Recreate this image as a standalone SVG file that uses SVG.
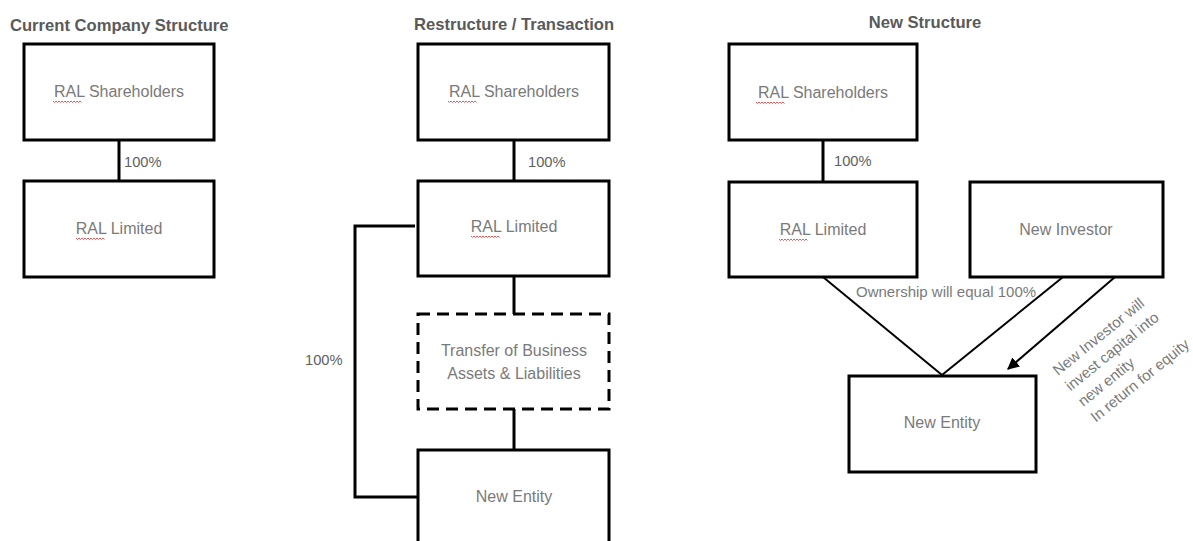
<svg xmlns="http://www.w3.org/2000/svg" width="1193" height="541" viewBox="0 0 1193 541">
<style>
.box{fill:#fff;stroke:#000;stroke-width:3}
.dash{fill:#fff;stroke:#000;stroke-width:3;stroke-dasharray:12,7}
.t{font-family:"Liberation Sans",Arial,sans-serif;font-size:16px;fill:#7a7a7a;text-anchor:middle}
.title{font-family:"Liberation Sans",Arial,sans-serif;font-size:16.6px;font-weight:bold;fill:#5a5a5a}
.lbl{font-family:"Liberation Sans",Arial,sans-serif;font-size:14.7px;fill:#5f5f5f}
.note{font-family:"Liberation Sans",Arial,sans-serif;font-size:15px;fill:#7a7a7a}
.ln{fill:none;stroke:#000;stroke-width:3}
.thin{fill:none;stroke:#000;stroke-width:2}
.sq{fill:none;stroke:#e03030;stroke-width:0.8}
</style>
<defs>
<marker id="ah" viewBox="0 0 10 10" refX="9" refY="5" markerWidth="6" markerHeight="6" orient="auto" markerUnits="strokeWidth">
<path d="M0,0 L10,5 L0,10 z" fill="#000"/>
</marker>
<path id="sqz" d="M0,0 l1.5,1.5 l1.5,-1.5 l1.5,1.5 l1.5,-1.5 l1.5,1.5 l1.5,-1.5 l1.5,1.5 l1.5,-1.5 l1.5,1.5 l1.5,-1.5 l1.5,1.5 l1.5,-1.5 l1.5,1.5 l1.5,-1.5 l1.5,1.5 l1.5,-1.5 l1.5,1.5 l1.5,-1.5 l1.5,1.5"/>
</defs>
<rect width="1193" height="541" fill="#fff"/>

<text class="title" x="10" y="31">Current Company Structure</text>
<text class="title" x="414" y="30">Restructure / Transaction</text>
<text class="title" x="925" y="28" text-anchor="middle">New Structure</text>

<g id="connectors">
<line class="ln" x1="119" y1="140" x2="119" y2="181"/>
<line class="ln" x1="514" y1="140" x2="514" y2="181"/>
<line class="ln" x1="514" y1="276" x2="514" y2="314"/>
<line class="ln" x1="514" y1="409" x2="514" y2="450"/>
<polyline class="ln" points="415,226 355,226 355,497 418,497"/>
<line class="ln" x1="823" y1="140" x2="823" y2="182"/>
<line class="thin" x1="823" y1="277" x2="942" y2="375"/>
<line class="thin" x1="1063" y1="277" x2="942" y2="375"/>
<line class="thin" x1="1115" y1="277" x2="1008" y2="369" marker-end="url(#ah)"/>
<text class="lbl" x="124" y="167">100%</text>
<text class="lbl" x="528" y="167">100%</text>
<text class="lbl" x="305" y="365">100%</text>
<text class="lbl" x="834" y="166">100%</text>
<text class="note" x="856" y="297">Ownership will equal 100%</text>
<text class="note" transform="translate(1058,376) rotate(-39)"><tspan x="0" y="0">New Investor will</tspan><tspan x="0" y="20">invest capital into</tspan><tspan x="0" y="40">new entity</tspan><tspan x="0" y="60">In return for equity</tspan></text>
</g>

<g id="l-shareholders">
<rect class="box" x="24" y="44" width="190" height="96"/>
<text class="t" x="119" y="97">RAL Shareholders</text>
<use href="#sqz" class="sq" x="53" y="101"/>
</g>
<g id="l-limited">
<rect class="box" x="24" y="181" width="190" height="96"/>
<text class="t" x="119" y="234">RAL Limited</text>
<use href="#sqz" class="sq" x="76" y="238"/>
</g>

<g id="m-shareholders">
<rect class="box" x="418" y="44" width="191" height="96"/>
<text class="t" x="514" y="97">RAL Shareholders</text>
<use href="#sqz" class="sq" x="448" y="101"/>
</g>
<g id="m-limited">
<rect class="box" x="418" y="181" width="191" height="95"/>
<text class="t" x="514" y="232">RAL Limited</text>
<use href="#sqz" class="sq" x="471" y="236"/>
</g>
<g id="m-transfer">
<rect class="dash" x="418" y="314" width="191" height="95"/>
<text class="t" x="514" y="356">Transfer of Business</text>
<text class="t" x="514" y="379">Assets &amp; Liabilities</text>
</g>
<g id="m-newentity">
<rect class="box" x="418" y="450" width="191" height="100"/>
<text class="t" x="514" y="502">New Entity</text>
</g>

<g id="r-shareholders">
<rect class="box" x="729" y="44" width="188" height="96"/>
<text class="t" x="823" y="98">RAL Shareholders</text>
<use href="#sqz" class="sq" x="756" y="102"/>
</g>
<g id="r-limited">
<rect class="box" x="729" y="182" width="188" height="95"/>
<text class="t" x="823" y="235">RAL Limited</text>
<use href="#sqz" class="sq" x="779" y="239"/>
</g>
<g id="r-investor">
<rect class="box" x="970" y="182" width="193" height="95"/>
<text class="t" x="1066" y="235">New Investor</text>
</g>
<g id="r-newentity">
<rect class="box" x="849" y="376" width="187" height="96"/>
<text class="t" x="942" y="428">New Entity</text>
</g>
</svg>
